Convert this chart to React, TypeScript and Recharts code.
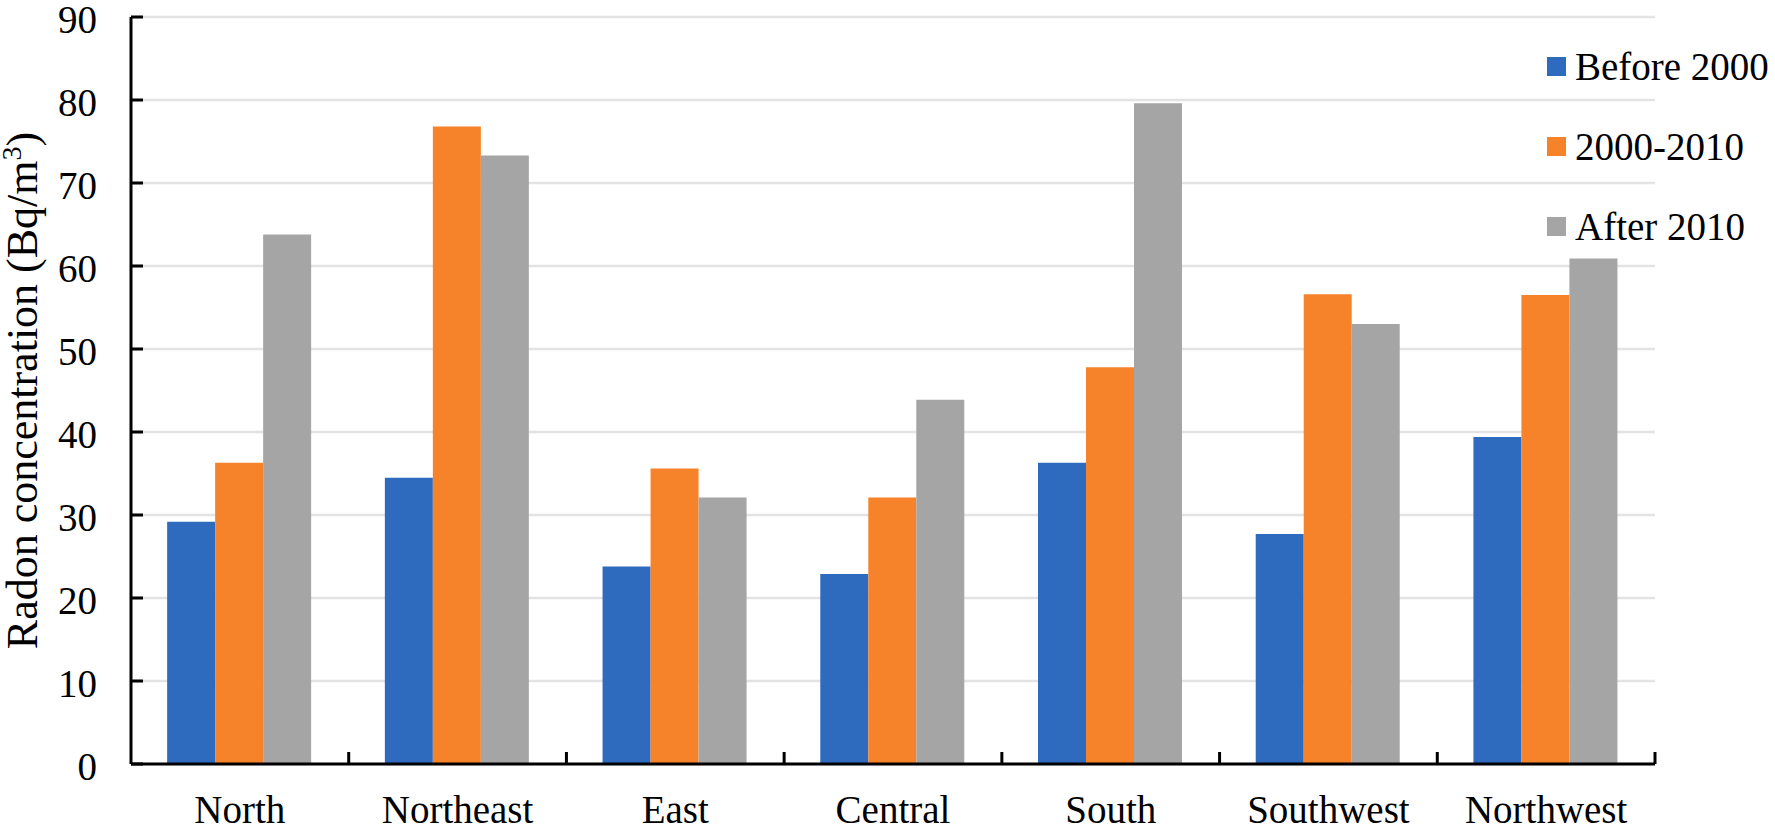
import React from 'react';
import { BarChart, Bar, XAxis, YAxis, CartesianGrid, Legend } from 'recharts';

const categories = ['North', 'Northeast', 'East', 'Central', 'South', 'Southwest', 'Northwest'];
const before2000 = [29.2, 34.5, 23.8, 22.9, 36.3, 27.7, 39.4];
const from2000to2010 = [36.3, 76.8, 35.6, 32.1, 47.8, 56.6, 56.5];
const after2010 = [63.8, 73.3, 32.1, 43.9, 79.6, 53.0, 60.9];
const yTicks = [0, 10, 20, 30, 40, 50, 60, 70, 80, 90];

const series = [
    { key: 'before', name: 'Before 2000', color: '#2E6BBE' },
    { key: 'mid', name: '2000-2010', color: '#F6822A' },
    { key: 'after', name: 'After 2010', color: '#A5A5A5' },
];

const data = categories.map((region, i) => ({
    region,
    before: before2000[i],
    mid: from2000to2010[i],
    after: after2010[i],
}));

const FONT = 'Liberation Serif, Tinos, Times New Roman, serif';

const XTick = ({ x, y, payload, index, width }: any) => {
    const half = payload?.offset ?? width / categories.length / 2;
    return (
        <g>
            {index > 0 && (
                <line x1={x - half} x2={x - half} y1={y} y2={y - 12} stroke="#000" strokeWidth={3} />
            )}
            {index === categories.length - 1 && (
                <line x1={x + half} x2={x + half} y1={y} y2={y - 12} stroke="#000" strokeWidth={3} />
            )}
            <text x={x} y={y + 59} textAnchor="middle" fontFamily={FONT} fontSize={39} fill="#000">
                {payload.value}
            </text>
        </g>
    );
};

const YTick = ({ x, y, payload }: any) => (
    <g>
        <line x1={x} x2={x + 12} y1={y} y2={y} stroke="#000" strokeWidth={3} />
        <text
            x={x - 34}
            y={y}
            dy={2}
            textAnchor="end"
            dominantBaseline="central"
            fontFamily={FONT}
            fontSize={39}
            fill="#000"
        >
            {payload.value}
        </text>
    </g>
);

const YLabel = ({ viewBox }: any) => {
    const cx = viewBox.x + 37;
    const cy = viewBox.y + viewBox.height / 2;
    return (
        <text
            x={cx}
            y={cy}
            transform={`rotate(-90 ${cx} ${cy})`}
            textAnchor="middle"
            fontFamily={FONT}
            fontSize={44}
            fill="#000"
        >
            Radon concentration (Bq/m
            <tspan fontSize={28} dy={-16}>3</tspan>
            <tspan dy={16}>)</tspan>
        </text>
    );
};

// legend drawn from the series list so the order stays as in the source
const renderLegend = () => (
    <div style={{ fontFamily: FONT, fontSize: 39, color: '#000' }}>
        {series.map((s) => (
            <div key={s.key} style={{ height: 80, display: 'flex', alignItems: 'center' }}>
                <div style={{ width: 19, height: 19, backgroundColor: s.color, marginRight: 9 }} />
                <span style={{ lineHeight: 1, whiteSpace: 'nowrap' }}>{s.name}</span>
            </div>
        ))}
    </div>
);

export default function App() {
    return (
        <div style={{ position: 'absolute', left: 0, top: 0, background: '#fff' }}>
            <BarChart
                width={1775}
                height={825}
                data={data}
                margin={{ top: 17, right: 120, bottom: 0, left: 0 }}
                barCategoryGap="16.6%"
                barGap={0}
            >
                <CartesianGrid vertical={false} stroke="#e3e3e3" strokeWidth={2.5} />
                <XAxis
                    dataKey="region"
                    height={61}
                    axisLine={{ stroke: '#000', strokeWidth: 3 }}
                    tickLine={false}
                    tickSize={0}
                    tickMargin={0}
                    interval={0}
                    tick={<XTick />}
                />
                <YAxis
                    width={131}
                    domain={[0, 90]}
                    ticks={yTicks}
                    interval={0}
                    axisLine={{ stroke: '#000', strokeWidth: 3 }}
                    tickLine={false}
                    tickSize={0}
                    tickMargin={0}
                    tick={<YTick />}
                    label={<YLabel />}
                />
                <Legend
                    layout="vertical"
                    align="center"
                    verticalAlign="middle"
                    wrapperStyle={{ left: 1547, top: 26, width: 228 }}
                    content={renderLegend}
                />
                {series.map((s) => (
                    <Bar key={s.key} dataKey={s.key} name={s.name} fill={s.color} isAnimationActive={false} />
                ))}
            </BarChart>
        </div>
    );
}
